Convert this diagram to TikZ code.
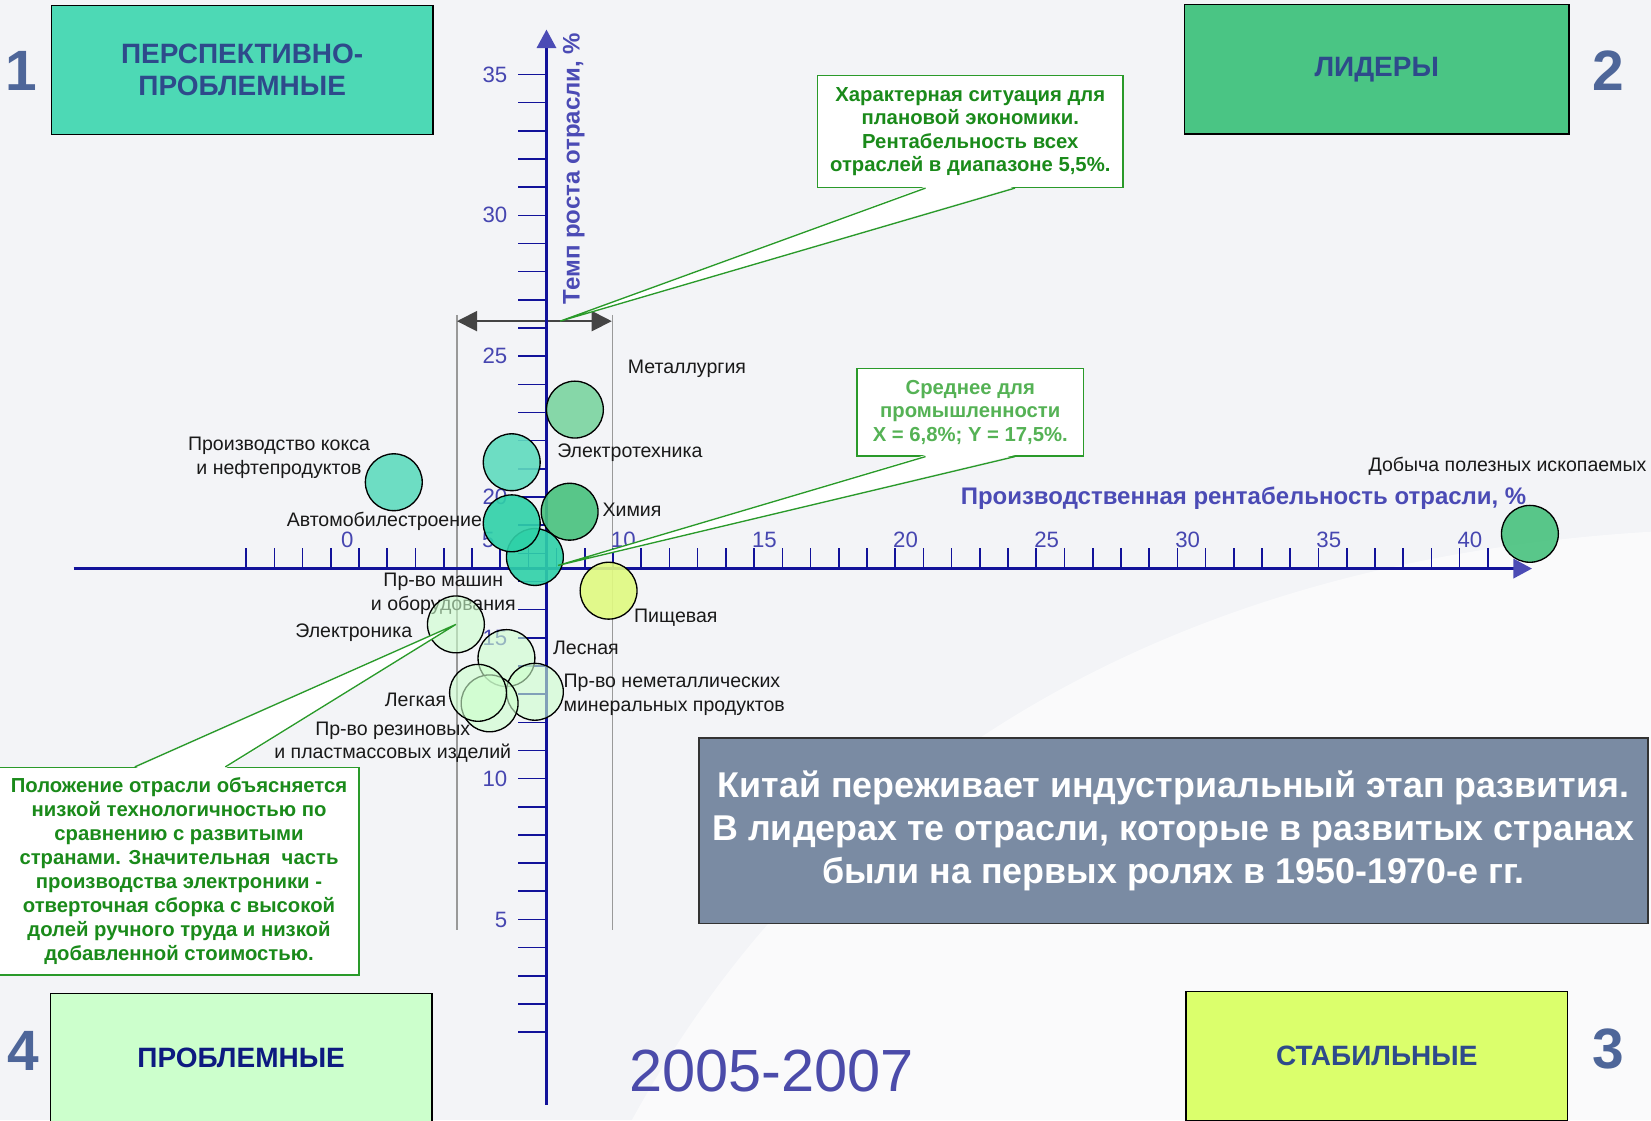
\documentclass[tikz,border=0pt]{standalone}
\usepackage{fontspec}
\setmainfont{Liberation Sans}
\usepackage{tikz}
\usetikzlibrary{positioning}
\usetikzlibrary{calc,arrows.meta}

\definecolor{bgc}{HTML}{F3F4F7}
\definecolor{axisc}{HTML}{12129A}
\definecolor{axish}{HTML}{4B4BB5}
\definecolor{tickl}{HTML}{4646B0}
\definecolor{quadt}{HTML}{2E4A8B}
\definecolor{navyt}{HTML}{0D1A80}
\definecolor{digc}{HTML}{4E6699}
\definecolor{qone}{HTML}{4DD9B5}
\definecolor{qtwo}{HTML}{4AC584}
\definecolor{qthree}{HTML}{DBFF6C}
\definecolor{qfour}{HTML}{CCFFCC}
\definecolor{slate}{HTML}{7A8BA3}
\definecolor{ngreen}{HTML}{2A9A2A}
\definecolor{ntext}{HTML}{1A8A1A}
\definecolor{ntextl}{HTML}{55B255}
\definecolor{darkc}{HTML}{444444}
\definecolor{bmet}{HTML}{7BD4A0}
\definecolor{bturq}{HTML}{5FDBBE}
\definecolor{bteal}{HTML}{2ED1A8}
\definecolor{bgreen}{HTML}{48C27E}
\definecolor{byel}{HTML}{E0FA80}
\definecolor{blight}{HTML}{CCFFCC}
\definecolor{yearc}{HTML}{4B4BAA}

\begin{document}
\begin{tikzpicture}[x=0.025cm,y=-0.025cm,
    quad/.style={draw=black,line width=0.9pt,minimum width=9.06cm,minimum height=3.07cm,inner sep=0pt,font=\fontsize{18.9}{22}\selectfont\bfseries,text=quadt,align=center},
    dig/.style={font=\fontsize{38.4}{40}\selectfont\bfseries,text=digc,inner sep=0pt},
    bubble/.style={circle,draw=black,line width=0.9pt,minimum size=1.35cm,inner sep=0pt,fill=#1,fill opacity=0.9},
    pale/.style={bubble=blight,fill opacity=0.6},
    lbl/.style={font=\fontsize{13.2}{16}\selectfont,text=black!90,inner sep=0pt,align=center},
    note/.style={draw=ngreen,fill=white,line width=0.9pt,inner sep=0pt,font=\fontsize{13.7}{15.9}\selectfont\bfseries,text=ntext,align=center},
    ptr/.style={draw=ngreen,line width=0.9pt},
    axisline/.style={draw=axisc,line width=2.2pt,-{Triangle[length=0.44cm,width=0.45cm,color=axish]}},
    tk/.style={draw=axisc,line width=1.1pt},
    tl/.style={font=\fontsize{15}{16}\selectfont,text=tickl,inner sep=0pt},
    ttl/.style={font=\fontsize{16.2}{18}\selectfont\bfseries,text=axish,inner sep=0pt},
    gl/.style={draw=gray!80,line width=0.9pt},
    rng/.style={draw=darkc,line width=1.2pt,{Triangle[length=0.48cm,width=0.48cm]}-{Triangle[length=0.48cm,width=0.48cm]}}
  ]
    \useasboundingbox (0,0) rectangle (1568,1064);
    \clip (0,0) rectangle (1568,1064);
    \fill[bgc] (0,0) rectangle (1568,1064);
    \fill[white,opacity=0.6] (600,1064) .. controls (800,700) and (1150,530) .. (1568,505) -- (1568,1064) -- cycle;

    \node[quad,fill=qone] (q1) at (230,66.5) {ПЕРСПЕКТИВНО-\\ПРОБЛЕМНЫЕ};
    \node[quad,fill=qtwo,minimum width=9.13cm] (q2) at (1307.5,66) {ЛИДЕРЫ};
    \node[quad,fill=qthree] (q3) at (1307.5,1003) {СТАБИЛЬНЫЕ};
    \node[quad,fill=qfour,text=navyt] (q4) at (229,1005) {ПРОБЛЕМНЫЕ};
    \node[dig] (d1) at (20,67) {1};
    \node[dig] (d2) at (1527,67) {2};
    \node[dig] (d3) at (1527,996) {3};
    \node[dig] (d4) at (22,998) {4};

    \draw[gl] (434,299) -- (434,883);
    \draw[gl] (582,299) -- (582,883);
    \coordinate (rl) at (434,305);
    \coordinate (rr) at (581,305);
    \draw[rng] (rl) -- (rr);

    \foreach \i in {-4,...,40}
      \draw[tk] ({341+26.8*\i},540) -- ++(0,-20);
    \foreach \j in {1,...,35}
      \draw[tk] (492,{472+(20-\j)*26.75}) -- (519,{472+(20-\j)*26.75});
    \foreach \xv in {0,5,...,40}
      \node[tl,anchor=east] (x\xv) at ({336+26.8*\xv},513) {\xv};
    \foreach \yv in {5,10,...,35}
      \node[tl,anchor=east] (y\yv) at (482,{472+(20-\yv)*26.75}) {\yv};

    \coordinate (xs) at (70,540);
    \coordinate (xe) at (1455,540);
    \coordinate (ys) at (519,1049);
    \coordinate (ye) at (519,28);
    \draw[axisline] (xs) -- (xe);
    \draw[axisline] (ys) -- (ye);
    \node[ttl] (xt) at (1181,473) {Производственная рентабельность отрасли, \%};
    \node[ttl,rotate=90] (yt) at (545,160) {Темп роста отрасли, \%};

    \node[lbl,anchor=west] (lmet) at (596,350) {Металлургия};
    \node[lbl,anchor=west] (lelt) at (529,430) {Электротехника};
    \node[lbl] (lkoks) at (265,435) {Производство кокса\\и нефтепродуктов};
    \node[lbl,anchor=west] (lkhim) at (572,484) {Химия};
    \node[lbl,anchor=east] (lauto) at (458,495) {Автомобилестроение};
    \node[lbl] (lmash) at (421,564) {Пр-во машин\\и оборудования};
    \node[lbl,anchor=east] (ldob) at (1564,443) {Добыча полезных ископаемых};
    \node[lbl,anchor=west] (lpish) at (602,587) {Пищевая};
    \node[lbl] (leln) at (336,601) {Электроника};
    \node[lbl,anchor=west] (lles) at (525,615) {Лесная};
    \node[lbl,anchor=west,align=left] (lnemet) at (535,660) {Пр-во неметаллических\\минеральных продуктов};
    \node[lbl,anchor=east] (llegk) at (424,665) {Легкая};
    \node[lbl] (lrez) at (373,705) {Пр-во резиновых\\и пластмассовых изделий};

    \node[bubble=bturq] (koks) at (374,458) {};
    \node[bubble=bmet] (met) at (546,389) {};
    \node[bubble=bturq] (elt) at (486,439) {};
    \node[bubble=bgreen] (khim) at (541,486) {};
    \node[bubble=bteal] (mash) at (508,529) {};
    \node[bubble=bteal] (auto) at (486,497) {};
    \node[bubble=byel] (pish) at (578,561) {};
    \node[bubble=bgreen] (dob) at (1453,507) {};
    \node[pale] (eln) at (433,593) {};
    \node[pale] (les) at (481,625) {};
    \node[pale] (nemet) at (508,657) {};
    \node[pale] (rez) at (465,668) {};
    \node[pale] (legk) at (454,658) {};

    \node[note,minimum width=7.25cm,minimum height=2.65cm] (n1) at (921.5,125) {Характерная ситуация для\\плановой экономики.\\Рентабельность всех\\отраслей в диапазоне 5,5\%.};
    \coordinate (t1) at (532,305);
    \fill[white] ($(n1.south)+(-42.5,-1.5)$) -- (t1) -- ($(n1.south)+(42.5,-1.5)$) -- cycle;
    \draw[ptr] ($(n1.south)+(-42.5,0)$) -- (t1) -- ($(n1.south)+(42.5,0)$);

    \node[note,text=ntextl,minimum width=5.375cm,minimum height=2.075cm] (n2) at (921.5,391.5) {Среднее для\\промышленности\\X = 6,8\%; Y = 17,5\%.};
    \coordinate (t2) at (530,537);
    \fill[white] ($(n2.south)+(-42.5,-1.5)$) -- (t2) -- ($(n2.south)+(42.5,-1.5)$) -- cycle;
    \draw[ptr] ($(n2.south)+(-42.5,0)$) -- (t2) -- ($(n2.south)+(42.5,0)$);

    \node[note,font=\fontsize{13.7}{16.2}\selectfont\bfseries,minimum width=8.55cm,minimum height=4.925cm] (n3) at (170,827.5) {Положение отрасли объясняется\\низкой технологичностью по\\сравнению с развитыми\\странами. Значительная\ \ часть\\производства электроники -\\отверточная сборка с высокой\\долей ручного труда и низкой\\добавленной стоимостью.};
    \fill[white] ($(n3.north)+(-42,1.5)$) -- (eln.center) -- ($(n3.north)+(44,1.5)$) -- cycle;
    \draw[ptr] ($(n3.north)+(-42,0)$) -- (eln.center) -- ($(n3.north)+(44,0)$);

    \node[draw=black!80,line width=0.9pt,fill=slate,minimum width=22.525cm,minimum height=4.4cm,inner sep=0pt,text=white,align=center,font=\fontsize{24.2}{28.8}\selectfont\bfseries] (kit) at (1114.5,789) {Китай переживает индустриальный этап развития.\\В лидерах те отрасли, которые в развитых странах\\были на первых ролях в 1950-1970-е гг.};
    \node[font=\fontsize{40.2}{42}\selectfont,text=yearc,inner sep=0pt] (yr) at (733,1017) {2005-2007};
  \end{tikzpicture}
\end{document}
